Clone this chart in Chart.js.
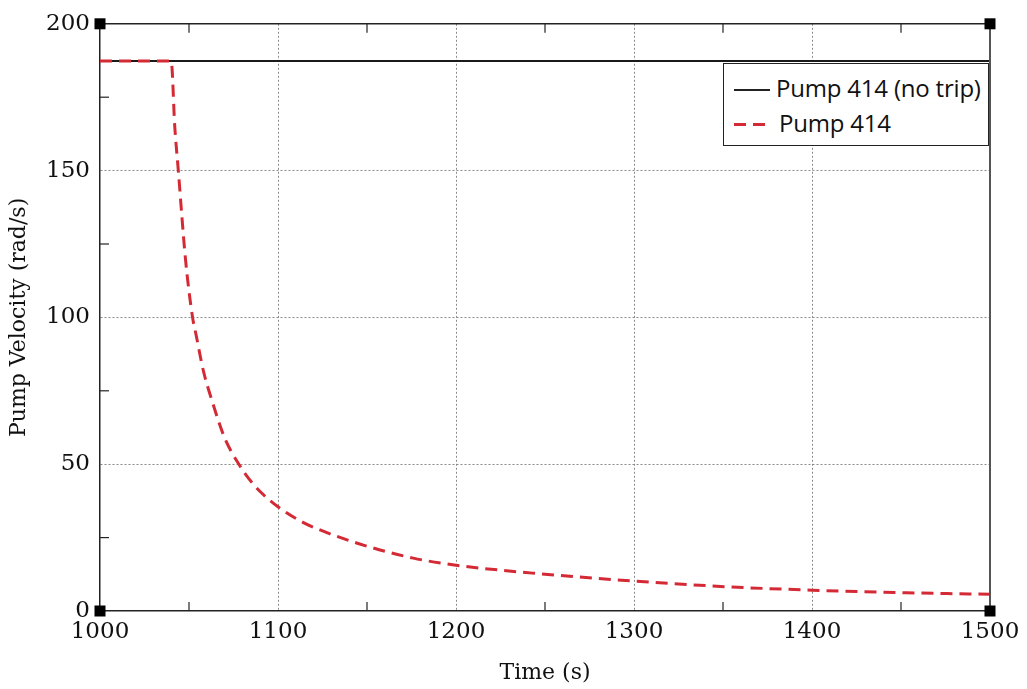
<!DOCTYPE html>
<html>
<head>
<meta charset="utf-8">
<script src="https://cdn.jsdelivr.net/npm/chart.js@4.4.1/dist/chart.umd.min.js"></script>
<style>
  html, body { margin: 0; padding: 0; background: #fff; }
  #wrap { position: relative; width: 1027px; height: 689px; }
  #legend {
    position: absolute; left: 723px; top: 63px; width: 266px; height: 83px;
    border: 1px solid #222; background: #fff; box-sizing: border-box;
    font-family: "Open Sans", sans-serif; font-size: 24px; color: #111;
  }
  .sw { position: absolute; left: 10px; width: 36px; height: 0; }
  .lbl { position: absolute; white-space: nowrap; line-height: 30px; letter-spacing: -0.2px; }
</style>
</head>
<body>
<div id="wrap">
  <canvas id="c" width="1027" height="689"></canvas>
  <div id="legend">
    <div class="sw" style="top:25px; border-top:2px solid #222;"></div>
    <div class="lbl" style="left:52px; top:9px;">Pump 414 (no trip)</div>
    <div class="sw" style="top:59px; left:10px; width:12px; border-top:3px solid #d42a35;"></div>
    <div class="sw" style="top:59px; left:29px; width:12px; border-top:3px solid #d42a35;"></div>
    <div class="lbl" style="left:55px; top:44px;">Pump 414</div>
  </div>
</div>
<script>
// ---- data ----
const seriesNames = ["Pump 414 (no trip)", "Pump 414"];
const timeNoTrip = [1000, 1500];
const velNoTrip  = [187.3, 187.3];
const timeTrip = [1000, 1040, 1042, 1044, 1048, 1052, 1054, 1058, 1063, 1070, 1078, 1085, 1092, 1100, 1114, 1122, 1145, 1176, 1200, 1243, 1300, 1354, 1400, 1453, 1500];
const velTrip  = [187.3, 187.3, 165, 150, 120, 100,  94,   82,   71.5, 59,   50,   44,   39.5, 35.5, 30.2, 28,   23,   18,   15.6, 12.9, 10.2, 8.2,  7.1,  6.2,  5.7];
const xTicksMajor = [1000, 1100, 1200, 1300, 1400, 1500];
const yTicksMajor = [0, 50, 100, 150, 200];
const xAxisTitle = "Time (s)";
const yAxisTitle = "Pump Velocity (rad/s)";

const toXY = (xs, ys) => xs.map((x, i) => ({x: x, y: ys[i]}));

const frame = {
  id: 'frame',
  afterDraw(chart) {
    const {ctx, chartArea: a, scales: {x, y}} = chart;
    ctx.save();
    ctx.strokeStyle = '#222'; ctx.lineWidth = 1.5;
    ctx.beginPath(); ctx.moveTo(a.left, a.top); ctx.lineTo(a.right, a.top); ctx.stroke();
    ctx.strokeStyle = '#555'; ctx.lineWidth = 2;
    ctx.beginPath(); ctx.moveTo(a.right, a.top); ctx.lineTo(a.right, a.bottom); ctx.stroke();
    ctx.strokeStyle = '#222'; ctx.lineWidth = 1.2;
    for (let v = 1050; v < 1500; v += 100) {
      const px = x.getPixelForValue(v);
      ctx.beginPath(); ctx.moveTo(px, a.bottom); ctx.lineTo(px, a.bottom - 9); ctx.stroke();
      ctx.beginPath(); ctx.moveTo(px, a.top); ctx.lineTo(px, a.top + 9); ctx.stroke();
    }
    for (let v = 25; v < 200; v += 50) {
      const py = y.getPixelForValue(v);
      ctx.beginPath(); ctx.moveTo(a.left, py); ctx.lineTo(a.left + 9, py); ctx.stroke();
    }
    ctx.fillStyle = '#000';
    const s = 11;
    [[a.left, a.top], [a.right, a.top], [a.left, a.bottom], [a.right, a.bottom]].forEach(([cx, cy]) => {
      ctx.fillRect(cx - s / 2, cy - s / 2, s, s);
    });
    ctx.restore();
  }
};

const serif = "'DejaVu Serif', serif";

new Chart(document.getElementById('c'), {
  type: 'line',
  data: {
    datasets: [
      {
        label: seriesNames[0],
        data: toXY(timeNoTrip, velNoTrip),
        borderColor: '#1a1a1a', borderWidth: 2,
        pointRadius: 0, fill: false, order: 1
      },
      {
        label: seriesNames[1],
        data: toXY(timeTrip, velTrip),
        borderColor: '#d42a35', borderWidth: 3, borderDash: [12, 7],
        pointRadius: 0, fill: false, cubicInterpolationMode: 'monotone', order: 0
      }
    ]
  },
  options: {
    responsive: false, animation: false,
    layout: { padding: { left: 0, right: 37, top: 21, bottom: 0 } },
    plugins: { legend: { display: false }, tooltip: { enabled: false } },
    scales: {
      x: {
        type: 'linear', min: 1000, max: 1500,
        afterFit(s) { s.height = 78; },
        ticks: {
          stepSize: 100, autoSkip: false, maxRotation: 0,
          color: '#111', font: { family: serif, size: 23 }, padding: 7,
          callback: v => xTicksMajor.includes(v) ? String(v) : ''
        },
        grid: {
          drawTicks: false,
          color: c => (c.tick && c.tick.value > 1000 && c.tick.value < 1500) ? '#8a8a8a' : 'rgba(0,0,0,0)',
          lineWidth: 1
        },
        border: { display: true, color: '#222', width: 1.5, dash: [2, 2] },
        title: { display: true, text: xAxisTitle, color: '#111', font: { family: serif, size: 22 }, padding: { top: 0, bottom: 3 } }
      },
      y: {
        type: 'linear', min: 0, max: 200,
        afterFit(s) { s.width = 100; },
        ticks: {
          stepSize: 50, autoSkip: false,
          color: '#111', font: { family: serif, size: 23 }, padding: 10,
          callback: v => yTicksMajor.includes(v) ? String(v) : ''
        },
        grid: {
          drawTicks: false,
          color: c => (c.tick && c.tick.value > 0 && c.tick.value < 200) ? '#8a8a8a' : 'rgba(0,0,0,0)',
          lineWidth: 1
        },
        border: { display: true, color: '#222', width: 1.5, dash: [2, 2] },
        title: { display: true, text: yAxisTitle, color: '#111', font: { family: serif, size: 22 }, padding: { top: 6, bottom: 0 } }
      }
    }
  },
  plugins: [frame]
});
</script>
</body>
</html>
